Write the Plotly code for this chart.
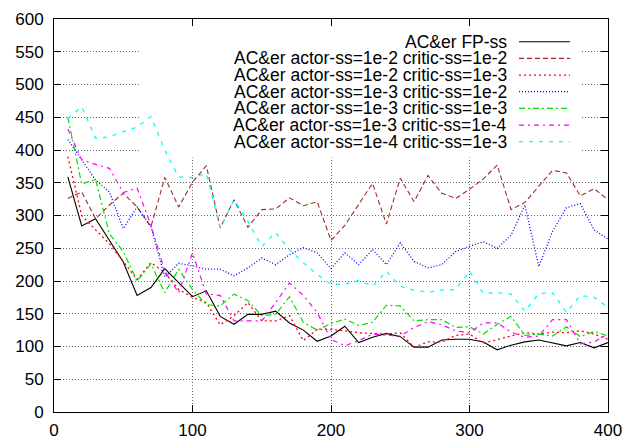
import plotly.graph_objects as go

steps = [10, 20, 30, 40, 50, 60, 70, 80, 90, 100,
         110, 120, 130, 140, 150, 160, 170, 180, 190, 200,
         210, 220, 230, 240, 250, 260, 270, 280, 290, 300,
         310, 320, 330, 340, 350, 360, 370, 380, 390, 400]

fp_ss = [359, 284, 295, 262, 229, 178, 190, 219, 198, 176,
         185, 146, 134, 149, 149, 154, 136, 125, 108, 116,
         131, 106, 114, 120, 115, 99, 99, 110, 111, 111,
         107, 95, 102, 107, 110, 105, 101, 106, 98, 106]

a2_c2 = [326, 336, 295, 316, 334, 313, 283, 358, 313, 351,
         376, 281, 324, 282, 309, 310, 327, 315, 321, 262,
         285, 318, 349, 287, 357, 321, 361, 334, 326, 340,
         356, 377, 309, 320, 344, 369, 365, 330, 341, 324]

a2_c3 = [390, 300, 278, 257, 230, 202, 228, 213, 187, 175,
         167, 133, 147, 167, 139, 139, 147, 109, 126, 126,
         124, 121, 120, 119, 121, 99, 107, 107, 117, 119,
         105, 111, 116, 121, 119, 122, 121, 124, 119, 111]

a3_c2 = [416, 385, 354, 336, 280, 313, 283, 206, 227, 223,
         218, 218, 208, 220, 235, 225, 240, 251, 243, 219,
         243, 225, 248, 225, 258, 230, 220, 225, 245, 253,
         260, 250, 270, 316, 222, 276, 312, 318, 278, 264]

a3_c3 = [450, 348, 355, 272, 245, 200, 226, 182, 218, 187,
         164, 162, 180, 170, 147, 149, 176, 137, 125, 135,
         142, 132, 137, 163, 162, 139, 141, 141, 129, 130,
         119, 134, 146, 117, 119, 116, 130, 115, 123, 116]

a3_c4 = [432, 385, 378, 372, 335, 342, 285, 215, 182, 243,
         180, 178, 139, 139, 139, 167, 197, 178, 152, 111,
         101, 109, 119, 117, 116, 129, 138, 133, 124, 121,
         136, 136, 122, 114, 116, 141, 141, 104, 107, 119]

a4_c3 = [448, 466, 418, 420, 428, 435, 451, 400, 359, 358,
         364, 281, 324, 291, 253, 274, 248, 228, 210, 195,
         195, 201, 192, 215, 192, 186, 183, 186, 187, 215,
         181, 182, 180, 154, 181, 182, 152, 178, 175, 160]

labels = ["AC&er FP-ss",
          "AC&er actor-ss=1e-2 critic-ss=1e-2",
          "AC&er actor-ss=1e-2 critic-ss=1e-3",
          "AC&er actor-ss=1e-3 critic-ss=1e-2",
          "AC&er actor-ss=1e-3 critic-ss=1e-3",
          "AC&er actor-ss=1e-3 critic-ss=1e-4",
          "AC&er actor-ss=1e-4 critic-ss=1e-3"]

x_ticks = [0, 100, 200, 300, 400]
y_ticks = [0, 50, 100, 150, 200, 250, 300, 350, 400, 450, 500, 550, 600]

series = [fp_ss, a2_c2, a2_c3, a3_c2, a3_c3, a3_c4, a4_c3]
colors = ["#000000", "#a52a2a", "#ff0000", "#0000ff", "#00e000", "#ff00ff", "#00ffff"]
dashes = ["solid", "5px,3px", "2px,3px", "1px,2px", "6px,3px,2px,3px",
          "5px,4px,2px,4px", "4px,6px"]
widths = [1.1, 1.1, 1.3, 1.3, 1.2, 1.2, 1.3]

FONT = "Liberation Sans, Arial, Helvetica, sans-serif"
W, H = 636, 440
L, R, T, B = 54, 28, 19, 28
PW, PH = W - L - R, H - T - B
X0, X1, Y0, Y1 = 0, 400, 0, 600


def px2x(px):
    return X0 + (px - L) / PW * (X1 - X0)


def py2y(py):
    return Y0 + (H - B - py) / PH * (Y1 - Y0)


fig = go.Figure()
for ys, name, c, d, w in zip(series, labels, colors, dashes, widths):
    fig.add_trace(go.Scatter(x=steps, y=ys, mode="lines", name=name,
                             line=dict(color=c, dash=d, width=w),
                             showlegend=False))

shapes = []
# opaque key background (hides the grid only, traces stay on top)
shapes.append(dict(type="rect", xref="x", yref="y",
                   x0=px2x(140.5), x1=px2x(580.5),
                   y0=py2y(157.5), y1=Y1,
                   fillcolor="white", line=dict(width=0), layer="between"))

annotations = []
row0 = 41.7
dy = 16.67
for i, (name, c, d, w) in enumerate(zip(labels, colors, dashes, widths)):
    yc = row0 + i * dy
    annotations.append(dict(text=name, xref="x", yref="y",
                            x=px2x(508), y=py2y(yc),
                            xanchor="right", yanchor="middle", showarrow=False,
                            borderpad=0, height=16,
                            font=dict(family=FONT, size=17.5, color="black")))
    shapes.append(dict(type="line", xref="x", yref="y",
                       x0=px2x(519), x1=px2x(570),
                       y0=py2y(yc), y1=py2y(yc),
                       line=dict(color=c, dash=d, width=w), layer="above"))

axis_common = dict(showline=True, linecolor="black", linewidth=1, mirror="ticks",
                   ticks="inside", ticklen=7, tickwidth=1, tickcolor="black",
                   showgrid=True, gridcolor="#666666", griddash="1px,2px",
                   gridwidth=1, zeroline=False, automargin=False,
                   tickfont=dict(family=FONT, size=17, color="black"))

fig.update_layout(
    width=W, height=H,
    margin=dict(l=L, r=R, t=T, b=B, autoexpand=False),
    paper_bgcolor="white", plot_bgcolor="white",
    shapes=shapes, annotations=annotations,
    xaxis=dict(range=[X0, X1], tickvals=x_ticks, ticklabelstandoff=3, **axis_common),
    yaxis=dict(range=[Y0, Y1], tickvals=y_ticks, ticklabelstandoff=6, **axis_common),
)

fig.write_html("out.html")
